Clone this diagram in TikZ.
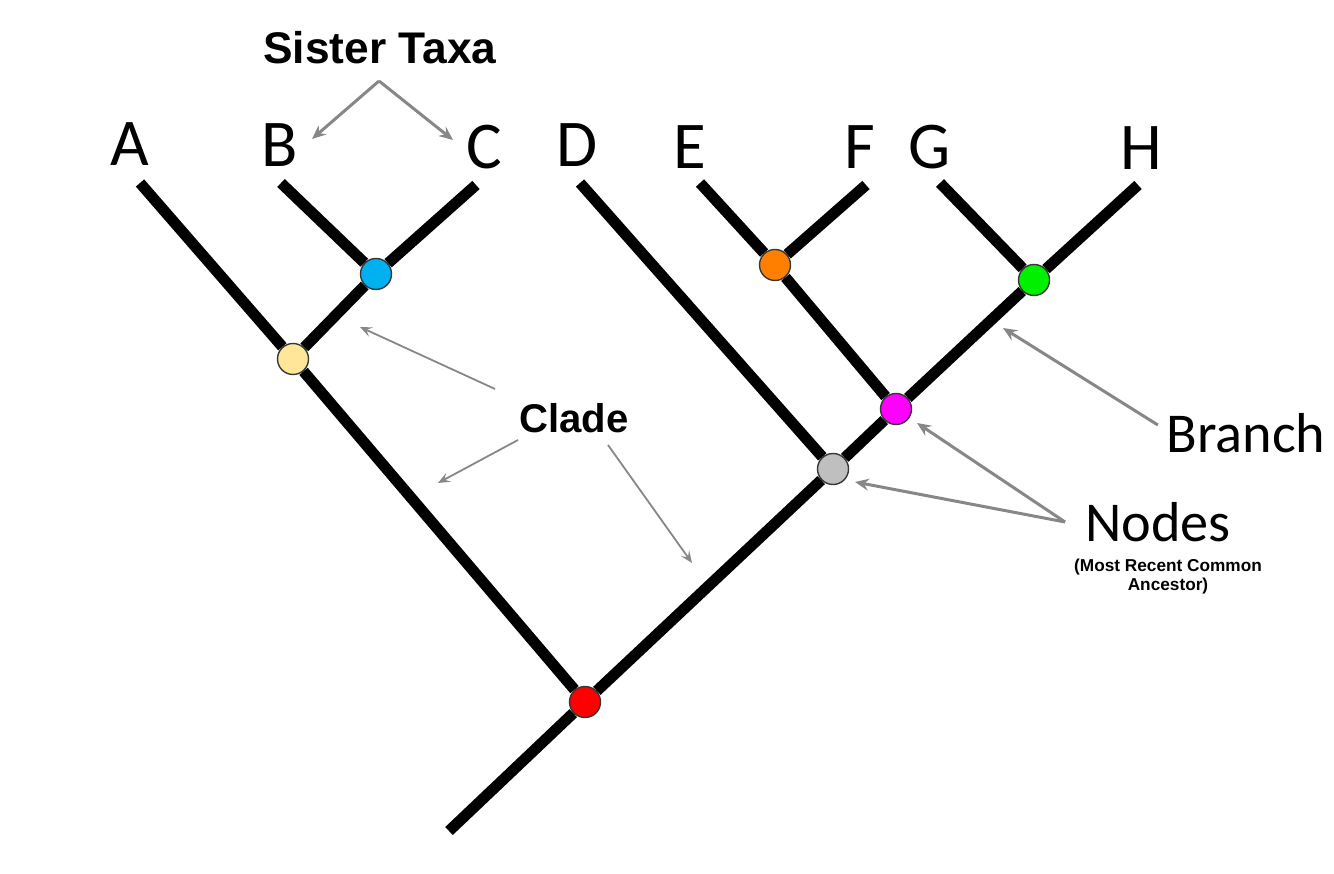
\documentclass[tikz,border=0pt]{standalone}
\usepackage{xcolor}
\usepackage{fontspec}
\usepackage{tikz}
\usetikzlibrary{arrows.meta}
\newfontfamily\calibri{Carlito}
\newfontfamily\arial{Liberation Sans}

\definecolor{fleche}{RGB}{135,135,135}
\definecolor{bord}{RGB}{55,55,55}
\definecolor{jaune}{RGB}{255,230,153}
\definecolor{bleu}{RGB}{0,176,240}
\definecolor{orange}{RGB}{255,128,0}
\definecolor{vert}{RGB}{0,240,0}
\definecolor{magenta}{RGB}{255,0,255}
\definecolor{gris}{RGB}{191,191,191}

\begin{document}
\begin{tikzpicture}[x=0.01cm, y=-0.01cm,
  noeud/.style={circle, draw=bord, line width=0.4pt, minimum size=0.31cm, inner sep=0pt},
  branche/.style={line width=0.11cm},
  taxon/.style={font=\calibri\fontsize{19}{19}\selectfont, inner sep=0pt},
  grand/.style={font=\calibri\fontsize{16}{16}\selectfont, inner sep=0pt},
  gras/.style={font=\arial\bfseries, inner sep=0pt},
  fl/.style={-{Stealth[length=0.14cm, width=0.12cm, inset=0.05cm]}, draw=fleche, fill=fleche, line width=0.03cm},
  flfine/.style={-{Stealth[length=0.12cm, width=0.10cm, inset=0.05cm]}, draw=fleche, fill=fleche, line width=0.018cm}]
\useasboundingbox (0,0) rectangle (1334,874);

%% noeuds (ancetres communs)
\node[noeud, fill=red]     (rouge)   at (585,702) {};
\node[noeud, fill=jaune]   (jaune)   at (293,359) {};
\node[noeud, fill=bleu]    (bleu)    at (376,274) {};
\node[noeud, fill=gris]    (gris)    at (833,469) {};
\node[noeud, fill=magenta] (magenta) at (896,409) {};
\node[noeud, fill=orange]  (orange)  at (775,265) {};
\node[noeud, fill=vert]    (vert)    at (1034,280) {};

%% racine et extremites des branches
\coordinate (racine) at (449,831);
\coordinate (tA) at (140,183);
\coordinate (tB) at (281,183);
\coordinate (tC) at (476,185);
\coordinate (tD) at (580,183);
\coordinate (tE) at (700,183);
\coordinate (tF) at (866,185);
\coordinate (tG) at (940,183);
\coordinate (tH) at (1138,185);

%% branches
\draw[branche] (racine) -- (rouge);
\draw[branche] (rouge) -- (jaune);
\draw[branche] (jaune) -- (tA);
\draw[branche] (jaune) -- (bleu);
\draw[branche] (bleu) -- (tB);
\draw[branche] (bleu) -- (tC);
\draw[branche] (rouge) -- (gris);
\draw[branche] (gris) -- (tD);
\draw[branche] (gris) -- (magenta);
\draw[branche] (magenta) -- (orange);
\draw[branche] (orange) -- (tE);
\draw[branche] (orange) -- (tF);
\draw[branche] (magenta) -- (vert);
\draw[branche] (vert) -- (tG);
\draw[branche] (vert) -- (tH);

%% noms des taxons
\node[taxon] (A) at (130,144) {A};
\node[taxon] (B) at (280,145) {B};
\node[taxon] (C) at (484,147) {C};
\node[taxon] (D) at (577,145) {D};
\node[taxon] (E) at (690,147) {E};
\node[taxon] (F) at (860,147) {F};
\node[taxon] (G) at (930,147) {G};
\node[taxon] (H) at (1141,148) {H};

%% taxons freres
\node[gras, font=\arial\bfseries\fontsize{12.6}{12.6}\selectfont] (soeurs) at (380,48) {Sister Taxa};
\coordinate (sommet) at (379,81);
\coordinate (versB) at (312,139);
\coordinate (versC) at (453,140);
\draw[fl] (sommet) -- (versB);
\draw[fl] (sommet) -- (versC);

%% clades
\node[gras, font=\arial\bfseries\fontsize{11.4}{11.4}\selectfont] (clade) at (574,418) {Clade};
\coordinate (c1) at (360,327);
\coordinate (c2) at (438,483);
\coordinate (c3) at (692,563);
\draw[flfine] (495,389) -- (c1);
\draw[flfine] (518,440) -- (c2);
\draw[flfine] (608,445) -- (c3);

%% branche
\node[grand] (branch) at (1246,433) {Branch};
\coordinate (surbranche) at (1003,328);
\draw[fl] (branch.west) ++(-8,-8) -- (surbranche);

%% noeuds
\node[grand] (nodes) at (1158,522) {Nodes};
\coordinate (pointe) at (1065,522);
\draw[fl] (pointe) -- (855,482);
\draw[fl] (pointe) -- (917,423);
\node[gras, font=\arial\bfseries\fontsize{4.9}{5.4}\selectfont, align=center] (mrca) at (1168,577)
  {(Most Recent Common\\Ancestor)};

\end{tikzpicture}
\end{document}
